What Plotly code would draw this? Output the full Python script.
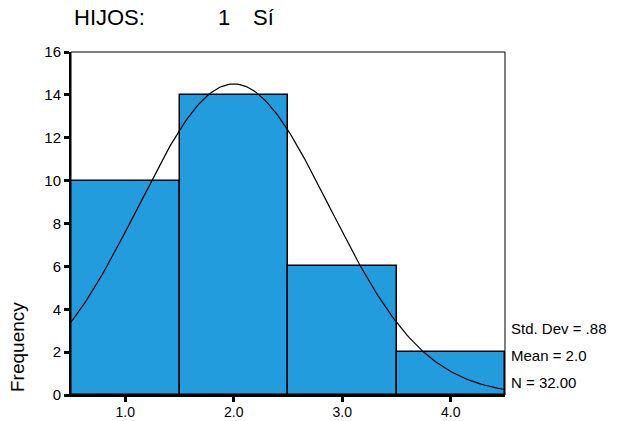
import numpy as np
import plotly.graph_objects as go

categories = [1.0, 2.0, 3.0, 4.0]
frequencies = [10, 14, 6, 2]
tick_labels = ["1.0", "2.0", "3.0", "4.0"]
y_ticks = [0, 2, 4, 6, 8, 10, 12, 14, 16]
std_dev = 0.88
mean = 2.0
n_total = 32
stats_labels = ["Std. Dev = .88", "Mean = 2.0", "N = 32.00"]

FONT = "Liberation Sans, Arial, sans-serif"
BAR = "#229CDD"

# fitted normal curve from the displayed statistics (bin width 1)
xs = np.linspace(0.5, 4.5, 200)
ys = n_total * 1.0 / (std_dev * np.sqrt(2 * np.pi)) * np.exp(-((xs - mean) ** 2) / (2 * std_dev ** 2))

L, R, T, B = 71, 505, 52, 395
W, H = 618, 421

fig = go.Figure()
fig.add_trace(go.Bar(x=categories, y=frequencies, width=1.0,
                     marker=dict(color=BAR, line=dict(color="black", width=1.5)),
                     showlegend=False, hoverinfo="skip"))
fig.add_trace(go.Scatter(x=xs, y=ys, mode="lines", line=dict(color="black", width=1.2),
                         showlegend=False, hoverinfo="skip"))

fig.update_layout(
    width=W, height=H,
    margin=dict(l=L, r=W - R, t=T, b=H - B, autoexpand=False),
    paper_bgcolor="white", plot_bgcolor="white",
    font=dict(family=FONT, color="black", size=14),
    bargap=0,
    xaxis=dict(range=[0.5, 4.5], tickvals=categories, ticktext=tick_labels, automargin=False,
               showgrid=False, zeroline=False, showline=True, linecolor="black", linewidth=2,
               ticks="outside", ticklen=5, tickwidth=3, tickcolor="black",
               ticklabelstandoff=-2,
               tickfont=dict(size=14, family=FONT)),
    yaxis=dict(range=[0, 16], tickvals=y_ticks, automargin=False,
               showgrid=False, zeroline=False, showline=True, linecolor="black", linewidth=2,
               ticks="outside", ticklen=5, tickwidth=3, tickcolor="black",
               tickfont=dict(size=15, family=FONT)),
    shapes=[dict(type="rect", xref="paper", yref="paper", x0=0, y0=0, x1=1, y1=1,
                 line=dict(color="black", width=1))],
)

def px(x):
    return (x - L) / (R - L)

def py(y):
    return (B - y) / (B - T)

for text, x in [("HIJOS:", 72), ("1", 216), ("Sí", 251)]:
    fig.add_annotation(text=text, xref="paper", yref="paper", x=px(x), y=py(18),
                       xanchor="left", yanchor="middle", showarrow=False,
                       font=dict(size=22, family=FONT))

for i, s in enumerate(stats_labels):
    yp = 328 + 27 * i
    fig.add_annotation(text=s, xref="paper", yref="paper", x=px(509), y=py(yp),
                       xanchor="left", yanchor="middle", showarrow=False,
                       font=dict(size=15, family=FONT))

fig.add_annotation(text="Frequency", xref="paper", yref="paper",
                   x=px(17), y=py(347),
                   xanchor="center", yanchor="middle", textangle=-90, showarrow=False,
                   font=dict(size=19, family=FONT))

fig.write_html("out.html", config={"displayModeBar": False},
               post_script="document.body.style.margin='0';")
